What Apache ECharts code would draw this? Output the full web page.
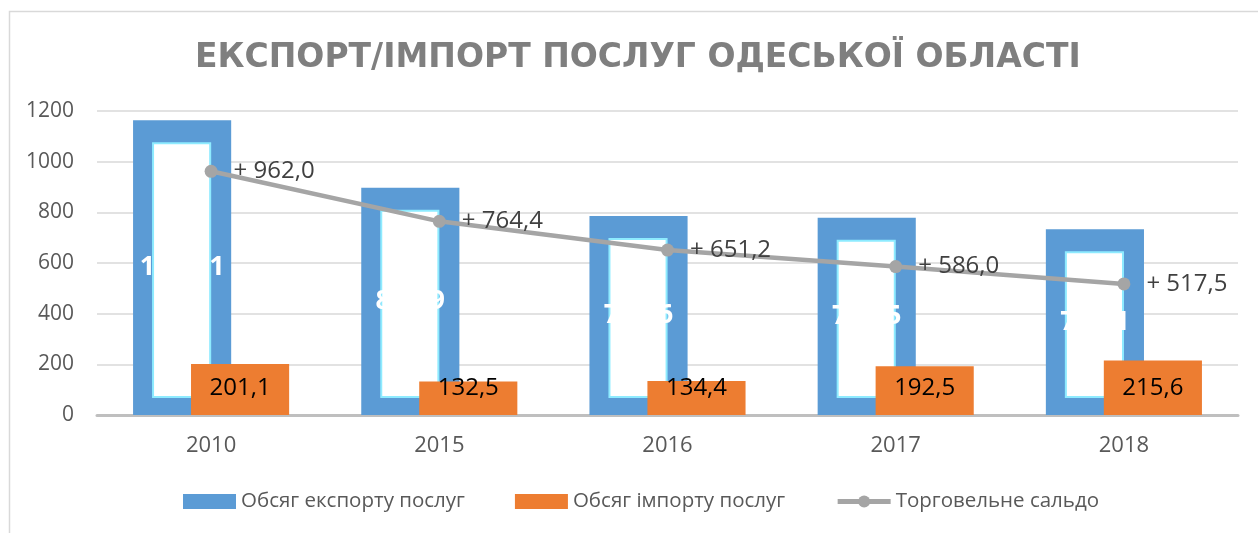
<!DOCTYPE html>
<html>
<head>
<meta charset="utf-8">
<script src="https://cdn.jsdelivr.net/npm/echarts@6/dist/echarts.min.js"></script>
<style>
  html, body { margin: 0; padding: 0; background: #fff; }
  #chart { width: 1258px; height: 533px; }
</style>
</head>
<body>
<div id="chart"></div>
<script>
var years = ['2010', '2015', '2016', '2017', '2018'];
var exportVals = [1163.1, 896.9, 785.6, 778.5, 733.1];
var importVals = [201.1, 132.5, 134.4, 192.5, 215.6];
var saldoVals = [962.0, 764.4, 651.2, 586.0, 517.5];

var FONT = '"Open Sans", "DejaVu Sans", sans-serif';

function fmt(v) {
  return v.toFixed(1).replace('.', ',');
}

// ширина стовпця та зсув від центру категорії (частки ширини категорії)
var BAR_W = 0.43, BAR_SHIFT = 0.127;

function renderExport(params, api) {
  var i = api.value(0), v = api.value(1);
  var top = api.coord([i, v]);
  var base = api.coord([i, 0]);
  var band = api.size([1, 0])[0];
  var w = band * BAR_W;
  var cx = top[0] - band * BAR_SHIFT;
  var x = cx - w / 2;
  var h = base[1] - top[1];
  return {
    type: 'group',
    children: [
      { type: 'rect', shape: { x: x, y: top[1], width: w, height: h }, style: { fill: '#5B9BD5' } },
      { type: 'rect', shape: { x: x + 20, y: top[1] + 23, width: w - 41, height: h - 41 },
        style: { fill: '#ffffff', stroke: '#8EEBFF', lineWidth: 2 } },
      { type: 'text', x: cx, y: (top[1] + base[1]) / 2,
        style: { text: fmt(v), fill: '#ffffff', fontSize: 27, fontWeight: 'bold', fontFamily: FONT,
                 align: 'center', verticalAlign: 'middle' } }
    ]
  };
}

function renderImport(params, api) {
  var i = api.value(0), v = api.value(1);
  var top = api.coord([i, v]);
  var base = api.coord([i, 0]);
  var band = api.size([1, 0])[0];
  var w = band * BAR_W;
  var cx = top[0] + band * BAR_SHIFT;
  return {
    type: 'group',
    children: [
      { type: 'rect', shape: { x: cx - w / 2, y: top[1], width: w, height: base[1] - top[1] },
        style: { fill: '#ED7D31' } },
      { type: 'text', x: cx, y: base[1] - 27,
        style: { text: fmt(v), fill: '#000000', fontSize: 24, fontFamily: FONT,
                 align: 'center', verticalAlign: 'middle' } }
    ]
  };
}

var chart = echarts.init(document.getElementById('chart'));
var option = {
  animation: false,
  backgroundColor: '#ffffff',
  graphic: [{
    type: 'rect',
    shape: { x: 9.5, y: 11.5, width: 1300, height: 600 },
    style: { fill: 'none', stroke: '#D9D9D9', lineWidth: 1.5 },
    silent: true
  }],
  title: {
    text: 'ЕКСПОРТ/ІМПОРТ ПОСЛУГ ОДЕСЬКОЇ ОБЛАСТІ',
    left: 190,
    top: 37,
    textStyle: { fontSize: 33, fontWeight: 'bold', color: '#7F7F7F', fontFamily: '"DejaVu Sans", sans-serif' }
  },
  grid: { left: 97, right: 20, top: 111, bottom: 118 },
  legend: {
    left: 178,
    top: 486,
    itemWidth: 53,
    itemHeight: 15,
    itemGap: 50,
    textStyle: { fontSize: 20.5, color: '#595959', fontFamily: FONT },
    data: [
      { name: 'Обсяг експорту послуг', icon: 'rect' },
      { name: 'Обсяг імпорту послуг', icon: 'rect' },
      { name: 'Торговельне сальдо', lineStyle: { width: 5 } }
    ]
  },
  xAxis: {
    type: 'category',
    data: years,
    axisLine: { lineStyle: { color: '#BFBFBF', width: 3 } },
    axisTick: { show: false },
    axisLabel: { fontSize: 22, color: '#595959', margin: 20, fontFamily: FONT }
  },
  yAxis: {
    type: 'value',
    min: 0,
    max: 1200,
    interval: 200,
    axisLine: { show: false },
    axisTick: { show: false },
    axisLabel: { fontSize: 21, color: '#595959', margin: 23, fontFamily: FONT,
                 formatter: function (v) { return String(v); } },
    splitLine: { lineStyle: { color: '#D9D9D9', width: 1.5 } }
  },
  series: [
    {
      name: 'Обсяг експорту послуг',
      type: 'custom',
      renderItem: renderExport,
      itemStyle: { color: '#5B9BD5' },
      encode: { x: 0, y: 1 },
      data: exportVals.map(function (v, i) { return [i, v]; })
    },
    {
      name: 'Обсяг імпорту послуг',
      type: 'custom',
      renderItem: renderImport,
      itemStyle: { color: '#ED7D31' },
      encode: { x: 0, y: 1 },
      data: importVals.map(function (v, i) { return [i, v]; })
    },
    {
      name: 'Торговельне сальдо',
      type: 'line',
      data: saldoVals,
      z: 5,
      symbol: 'circle',
      symbolSize: 13,
      lineStyle: { color: '#A5A5A5', width: 4.5 },
      itemStyle: { color: '#A5A5A5' },
      label: {
        show: true,
        position: 'right',
        distance: 16,
        fontSize: 24,
        color: '#404040',
        fontFamily: FONT,
        formatter: function (p) { return '+ ' + fmt(p.value); }
      }
    }
  ]
};
chart.setOption(option);
</script>
</body>
</html>
